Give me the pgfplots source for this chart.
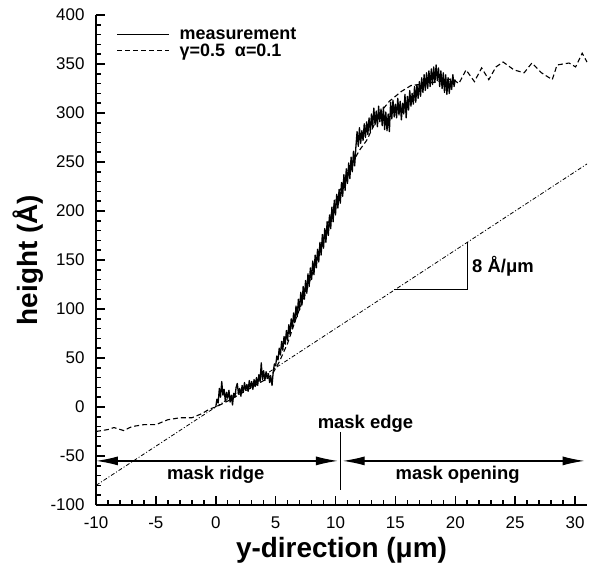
\documentclass[border=0pt]{standalone}
\usepackage{fontspec}
\setmainfont{Liberation Sans}
\usepackage{pgfplots}
\usepackage{pgfplotstable}
\pgfplotsset{compat=1.18}
\usetikzlibrary{arrows.meta}

\pgfplotstableread{
x y
0.0 0
0.1 8
0.2 4
0.3 19
0.4 10
0.5 26
0.6 12
0.7 18
0.8 6
0.9 15
1.0 9
1.1 17
1.2 5
1.3 12
1.4 2
1.5 14
1.6 10
1.7 20
1.8 24
1.9 13
2.0 19
2.1 11
2.2 22
2.3 15
2.4 25
2.5 17
2.6 23
2.7 16
2.8 27
2.9 19
3.0 26
3.1 18
3.2 28
3.3 21
3.4 30
3.5 22
3.6 33
3.7 26
3.8 45
3.9 28
4.0 37
4.1 27
4.2 36
4.3 29
4.4 34
4.5 25
4.6 31
4.7 22
4.8 36
4.9 44
5.0 42
5.1 52
5.2 48
5.3 60
5.4 53
5.5 67
5.6 58
5.7 72
5.8 64
5.9 78
6.0 68
6.1 84
6.2 74
6.3 90
6.4 80
6.5 96
6.6 86
6.7 103
6.8 92
6.9 110
7.0 99
7.1 117
7.2 104
7.3 123
7.4 110
7.5 129
7.6 116
7.7 136
7.8 123
7.9 142
8.0 130
8.1 149
8.2 135
8.3 155
8.4 142
8.5 161
8.6 148
8.7 168
8.8 155
8.9 176
9.0 162
9.1 182
9.2 168
9.3 189
9.4 175
9.5 196
9.6 182
9.7 204
9.8 189
9.9 211
10.0 196
10.1 217
10.2 203
10.3 222
10.4 208
10.5 229
10.6 215
10.7 237
10.8 221
10.9 243
11.0 228
11.1 249
11.2 233
11.3 255
11.4 240
11.5 261
11.6 246
11.7 265
11.8 281
11.9 266
12.0 285
12.1 269
12.2 282
12.3 272
12.4 289
12.5 275
12.6 291
12.7 278
12.8 295
12.9 281
13.0 299
13.1 285
13.2 305
13.3 288
13.4 302
13.5 286
13.6 307
13.7 291
13.8 304
13.9 287
14.0 306
14.1 283
14.2 301
14.3 282
14.4 299
14.5 281
14.6 311
14.7 294
14.8 313
14.9 296
15.0 309
15.1 295
15.2 315
15.3 298
15.4 312
15.5 293
15.6 310
15.7 299
15.8 319
15.9 295
16.0 317
16.1 303
16.2 323
16.3 307
16.4 320
16.5 309
16.6 327
16.7 311
16.8 329
16.9 315
17.0 332
17.1 317
17.2 336
17.3 321
17.4 339
17.5 323
17.6 341
17.7 325
17.8 343
17.9 327
18.0 345
18.1 329
18.2 347
18.3 331
18.4 349
18.5 333
18.6 346
18.7 327
18.8 343
18.9 325
19.0 341
19.1 321
19.2 339
19.3 319
19.4 336
19.5 320
19.6 334
19.7 324
19.8 339
19.9 327
20.0 334
}\measured

\pgfplotstableread{
x y
-10 -25
-9 -23
-8.5 -21
-7.7 -24
-7 -20
-6 -18
-5 -18
-4 -13
-3 -11
-2 -11
-1.2 -7
-0.5 -2
0 0
1 6
2 13
3 20
4 27
4.7 33
5.3 46
6 65
6.75 92
7.6 119
8.25 143
8.67 160
9 172
10 210
11 240
12 262
12.6 272
13.7 300
14.5 312
15.5 322
16.3 328
17.6 330
19 333
19.75 335
20.3 330
20.9 344
21.6 332
22.2 346
22.8 334
23.4 347
24 352
24.9 344
25.75 341
26.4 351
27.2 341
28.1 334
28.5 349
29.5 351
30.05 347
30.6 361
31 352
}\model

\pgfplotstableread{
x y
-10 -80
31 248
}\slope

\begin{document}
\begin{tikzpicture}
\begin{axis}[
  scale only axis, width=491bp, height=490bp,
  xmin=-10, xmax=31, ymin=-100, ymax=400,
  clip=false,
  axis x line*=bottom, axis y line*=left,
  axis line style={line width=2.2bp},
  xtick={-10,-5,...,30}, ytick={-100,-50,...,400},
  minor x tick num=4, minor y tick num=4,
  tick align=inside, major tick length=9bp, minor tick length=5bp,
  tick style={line width=1.5bp, black},
  ticklabel style={font=\fontsize{17}{20}\selectfont},
  xticklabel style={yshift=-8bp},
  yticklabel style={xshift=-8bp},
  /pgf/number format/assume math mode=true,
  xlabel={y-direction (μm)}, ylabel={height (Å)},
  label style={font=\fontsize{28}{32}\selectfont\bfseries},
  xlabel style={yshift=-2bp},
  legend style={draw=none, fill=none, at={(0.035,0.982)}, anchor=north west,
    font=\fontsize{18}{19}\selectfont\bfseries, row sep=0bp,
    nodes={text height=12.5bp, text depth=2bp, inner ysep=1bp}},
  legend cell align=left,
  legend image code/.code={\draw[#1] (0bp,0bp) -- (52bp,0bp); \path (60bp,0bp);},
]
\addplot[black, line width=1.3bp, line join=round] table[x=x,y=y] {\measured};
\addlegendentry{measurement}
\addplot[black, line width=1.1bp, dash pattern=on 5bp off 3bp] table[x=x,y=y] {\model};
\addlegendentry{γ=0.5\ \ α=0.1}
\addplot[black, line width=0.8bp, dash pattern=on 4bp off 2bp on 1bp off 2bp, forget plot] table[x=x,y=y] {\slope};

% annotations
\draw[line width=1.2bp, {Latex[length=22bp,width=9bp]}-{Latex[length=22bp,width=9bp]}] (axis cs:-10,-55) -- (axis cs:10.2,-55);
\draw[line width=1.2bp, {Latex[length=22bp,width=9bp]}-{Latex[length=22bp,width=9bp]}] (axis cs:10.6,-55) -- (axis cs:30.8,-55);
\draw[line width=1.2bp] (axis cs:10.4,-25.5) -- (axis cs:10.4,-85);
\node[anchor=base, font=\fontsize{18.5}{20}\selectfont\bfseries, inner sep=0pt] at (axis cs:12.5,-21.5) {mask edge};
\node[anchor=base, font=\fontsize{18.5}{20}\selectfont\bfseries, inner sep=0pt] at (axis cs:0,-73.5) {mask ridge};
\node[anchor=base, font=\fontsize{18.5}{20}\selectfont\bfseries, inner sep=0pt] at (axis cs:20.2,-73.5) {mask opening};
\draw[line width=1.2bp] (axis cs:14.9,120) -- (axis cs:21,120) -- (axis cs:21,168);
\node[anchor=base west, font=\fontsize{18.5}{20}\selectfont\bfseries, inner sep=0pt] at (axis cs:21.4,137) {8 Å/μm};
\end{axis}
\pgfresetboundingbox
\path[use as bounding box] (-96bp,-70bp) rectangle (501bp,505bp);
\end{tikzpicture}
\end{document}
